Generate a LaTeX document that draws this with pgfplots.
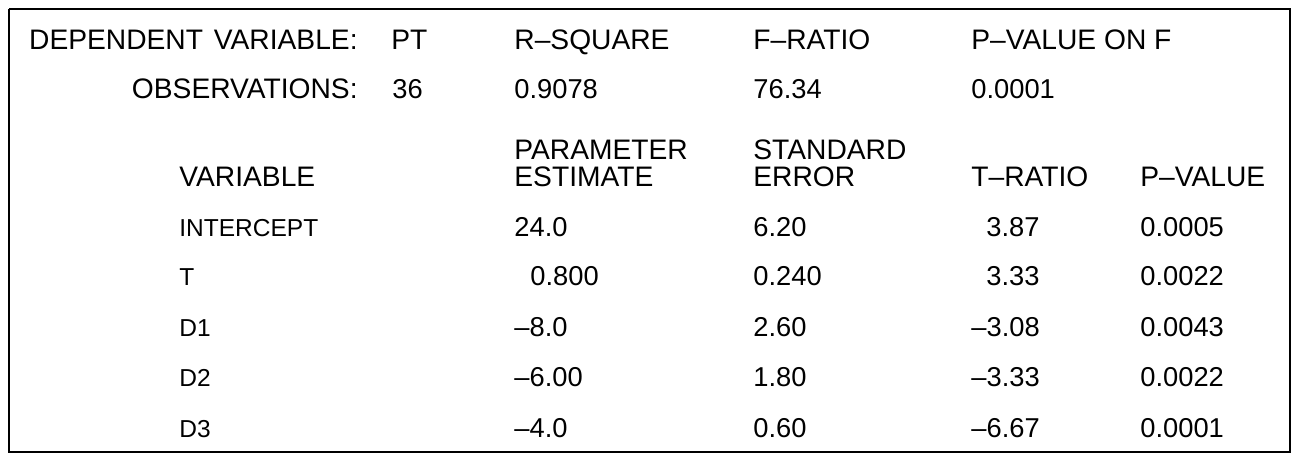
\documentclass[border=0pt]{standalone}
\usepackage{pgfplots}
\pgfplotsset{compat=1.18}
\usepackage{fontspec}
\setmainfont{Liberation Sans}

% one unit of the axis is one pixel of the reference (0.5pt)
\newcommand{\bigfont}{\fontsize{13.65pt}{16pt}\selectfont}
\newcommand{\wordfont}{\fontsize{14.1pt}{16pt}\selectfont}
\newcommand{\smallfont}{\fontsize{12.25pt}{14pt}\selectfont}
\newcommand{\cell}[3]{\node[anchor=base west,inner sep=0pt,font=\bigfont] at (axis cs:#1,#2) {#3};}
\newcommand{\word}[3]{\node[anchor=base west,inner sep=0pt,font=\wordfont] at (axis cs:#1,#2) {#3};}
\newcommand{\wordr}[3]{\node[anchor=base east,inner sep=0pt,font=\wordfont] at (axis cs:#1,#2) {#3};}
\newcommand{\cells}[3]{\node[anchor=base west,inner sep=0pt,font=\smallfont] at (axis cs:#1,#2) {#3};}

\begin{document}
\begin{tikzpicture}
  \begin{axis}[
      scale only axis,
      width=649pt, height=231pt,
      xmin=0, xmax=1298, ymin=0, ymax=462,
      y dir=reverse,
      axis lines=none,
      clip=false,
    ]
    \path (axis cs:0,0) rectangle (axis cs:1298,462);
    % frame
    \addplot[black, line width=1.1pt, mark=none] coordinates {(9,9) (1290,9) (1290,452) (9,452) (9,9)};

    % summary block
    \wordr{358}{49}{DEPENDENT\hspace{1.5pt} VARIABLE:}
    \word{391}{49}{PT}
    \word{514}{49}{R–SQUARE}
    \word{753}{49}{F–RATIO}
    \word{971}{49}{P–VALUE ON F}
    \wordr{358}{98}{OBSERVATIONS:}
    \cell{392}{98}{36}
    \cell{514}{98}{0.9078}
    \cell{753}{98}{76.34}
    \cell{971}{98}{0.0001}

    % column headers
    \word{514}{159}{PARAMETER}
    \word{753}{159}{STANDARD}
    \word{179}{186}{VARIABLE}
    \word{514}{186}{ESTIMATE}
    \word{753}{186}{ERROR}
    \word{971}{186}{T–RATIO}
    \word{1140}{186}{P–VALUE}

    % coefficient rows
    \cells{179}{236}{INTERCEPT}
    \cell{514}{236}{24.0}
    \cell{753}{236}{6.20}
    \cell{986}{236}{3.87}
    \cell{1140}{236}{0.0005}

    \cells{179}{285}{T}
    \cell{530}{285}{0.800}
    \cell{753}{285}{0.240}
    \cell{986}{285}{3.33}
    \cell{1140}{285}{0.0022}

    \cells{179}{336}{D1}
    \cell{514}{336}{–8.0}
    \cell{753}{336}{2.60}
    \cell{971}{336}{–3.08}
    \cell{1140}{336}{0.0043}

    \cells{179}{386}{D2}
    \cell{514}{386}{–6.00}
    \cell{753}{386}{1.80}
    \cell{971}{386}{–3.33}
    \cell{1140}{386}{0.0022}

    \cells{179}{437}{D3}
    \cell{514}{437}{–4.0}
    \cell{753}{437}{0.60}
    \cell{971}{437}{–6.67}
    \cell{1140}{437}{0.0001}
  \end{axis}
\end{tikzpicture}
\end{document}
